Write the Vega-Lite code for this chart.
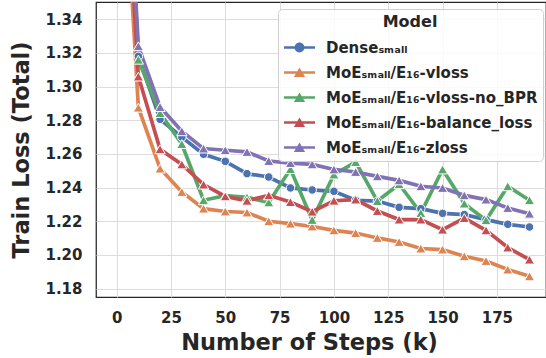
{
  "$schema": "https://vega.github.io/schema/vega-lite/v6.json",
  "width": 450,
  "height": 295,
  "autosize": {"type": "none"},
  "padding": {"left": 96, "top": 2, "right": 0, "bottom": 61},
  "background": "white",
  "config": {
    "font": "DejaVu Sans",
    "view": {"stroke": "#262626", "strokeWidth": 1.25},
    "axis": {
      "grid": true, "gridColor": "#dcdcdc", "gridWidth": 1,
      "ticks": false, "domain": false,
      "labelFontSize": 15, "labelFontWeight": "bold", "labelColor": "#262626",
      "titleFontSize": 22.5, "titleFontWeight": "bold", "titleColor": "#262626"
    },
    "legend": {
      "strokeColor": "#d0d0d0", "fillColor": "rgba(255,255,255,0.85)", "cornerRadius": 4,
      "padding": 5, "titleFontSize": 16, "titleFontWeight": "bold", "titleColor": "#262626",
      "titleAnchor": "middle", "titlePadding": 1,
      "labelFontSize": 15, "labelFontWeight": "bold", "labelColor": "#262626", "labelLimit": 400,
      "symbolSize": 1089, "rowPadding": -1, "labelOffset": 10,
      "symbolOpacity": 1, "symbolStrokeWidth": 0
    }
  },
  "data": {"values": [
    {"model":"Dense","step":0,"loss":1.56},{"model":"Dense","step":10,"loss":1.318},{"model":"Dense","step":20,"loss":1.2806},{"model":"Dense","step":30,"loss":1.270},{"model":"Dense","step":40,"loss":1.2598},{"model":"Dense","step":50,"loss":1.2556},{"model":"Dense","step":60,"loss":1.2483},{"model":"Dense","step":70,"loss":1.2463},{"model":"Dense","step":80,"loss":1.2398},{"model":"Dense","step":90,"loss":1.2386},{"model":"Dense","step":100,"loss":1.2378},{"model":"Dense","step":110,"loss":1.2325},{"model":"Dense","step":120,"loss":1.232},{"model":"Dense","step":130,"loss":1.2283},{"model":"Dense","step":140,"loss":1.2275},{"model":"Dense","step":150,"loss":1.2247},{"model":"Dense","step":160,"loss":1.224},{"model":"Dense","step":170,"loss":1.221},{"model":"Dense","step":180,"loss":1.2182},{"model":"Dense","step":190,"loss":1.2166},
    {"model":"vloss","step":0,"loss":1.51},{"model":"vloss","step":10,"loss":1.2875},{"model":"vloss","step":20,"loss":1.2513},{"model":"vloss","step":30,"loss":1.2374},{"model":"vloss","step":40,"loss":1.2275},{"model":"vloss","step":50,"loss":1.2258},{"model":"vloss","step":60,"loss":1.2252},{"model":"vloss","step":70,"loss":1.220},{"model":"vloss","step":80,"loss":1.2186},{"model":"vloss","step":90,"loss":1.2169},{"model":"vloss","step":100,"loss":1.2146},{"model":"vloss","step":110,"loss":1.213},{"model":"vloss","step":120,"loss":1.2101},{"model":"vloss","step":130,"loss":1.2077},{"model":"vloss","step":140,"loss":1.2038},{"model":"vloss","step":150,"loss":1.2032},{"model":"vloss","step":160,"loss":1.1992},{"model":"vloss","step":170,"loss":1.1964},{"model":"vloss","step":180,"loss":1.1913},{"model":"vloss","step":190,"loss":1.1873},
    {"model":"vloss-no_BPR","step":0,"loss":1.55},{"model":"vloss-no_BPR","step":10,"loss":1.316},{"model":"vloss-no_BPR","step":20,"loss":1.2843},{"model":"vloss-no_BPR","step":30,"loss":1.2659},{"model":"vloss-no_BPR","step":40,"loss":1.2325},{"model":"vloss-no_BPR","step":50,"loss":1.2352},{"model":"vloss-no_BPR","step":60,"loss":1.2342},{"model":"vloss-no_BPR","step":70,"loss":1.2312},{"model":"vloss-no_BPR","step":80,"loss":1.251},{"model":"vloss-no_BPR","step":90,"loss":1.2208},{"model":"vloss-no_BPR","step":100,"loss":1.2478},{"model":"vloss-no_BPR","step":110,"loss":1.2552},{"model":"vloss-no_BPR","step":120,"loss":1.232},{"model":"vloss-no_BPR","step":130,"loss":1.242},{"model":"vloss-no_BPR","step":140,"loss":1.2249},{"model":"vloss-no_BPR","step":150,"loss":1.2508},{"model":"vloss-no_BPR","step":160,"loss":1.2305},{"model":"vloss-no_BPR","step":170,"loss":1.2206},{"model":"vloss-no_BPR","step":180,"loss":1.2408},{"model":"vloss-no_BPR","step":190,"loss":1.2325},
    {"model":"balance_loss","step":0,"loss":1.53},{"model":"balance_loss","step":10,"loss":1.306},{"model":"balance_loss","step":20,"loss":1.2628},{"model":"balance_loss","step":30,"loss":1.2538},{"model":"balance_loss","step":40,"loss":1.2418},{"model":"balance_loss","step":50,"loss":1.2348},{"model":"balance_loss","step":60,"loss":1.2322},{"model":"balance_loss","step":70,"loss":1.2354},{"model":"balance_loss","step":80,"loss":1.2314},{"model":"balance_loss","step":90,"loss":1.2257},{"model":"balance_loss","step":100,"loss":1.2322},{"model":"balance_loss","step":110,"loss":1.2329},{"model":"balance_loss","step":120,"loss":1.2261},{"model":"balance_loss","step":130,"loss":1.221},{"model":"balance_loss","step":140,"loss":1.221},{"model":"balance_loss","step":150,"loss":1.215},{"model":"balance_loss","step":160,"loss":1.2219},{"model":"balance_loss","step":170,"loss":1.2146},{"model":"balance_loss","step":180,"loss":1.2044},{"model":"balance_loss","step":190,"loss":1.1972},
    {"model":"zloss","step":0,"loss":1.56},{"model":"zloss","step":10,"loss":1.324},{"model":"zloss","step":20,"loss":1.2879},{"model":"zloss","step":30,"loss":1.2735},{"model":"zloss","step":40,"loss":1.2632},{"model":"zloss","step":50,"loss":1.2622},{"model":"zloss","step":60,"loss":1.2612},{"model":"zloss","step":70,"loss":1.2558},{"model":"zloss","step":80,"loss":1.2546},{"model":"zloss","step":90,"loss":1.2538},{"model":"zloss","step":100,"loss":1.2508},{"model":"zloss","step":110,"loss":1.2493},{"model":"zloss","step":120,"loss":1.2467},{"model":"zloss","step":130,"loss":1.2443},{"model":"zloss","step":140,"loss":1.2408},{"model":"zloss","step":150,"loss":1.2398},{"model":"zloss","step":160,"loss":1.2354},{"model":"zloss","step":170,"loss":1.2329},{"model":"zloss","step":180,"loss":1.2279},{"model":"zloss","step":190,"loss":1.2245}
  ]},
  "encoding": {
    "x": {
      "field": "step", "type": "quantitative",
      "scale": {"domain": [-9.5, 197.6], "nice": false, "zero": false},
      "axis": {"values": [0, 25, 50, 75, 100, 125, 150, 175], "labelPadding": 13, "title": "Number of Steps (k)", "titlePadding": 6, "titleX": 213}
    },
    "y": {
      "field": "loss", "type": "quantitative",
      "scale": {"domain": [1.175, 1.3503], "nice": false, "zero": false},
      "axis": {"values": [1.18, 1.2, 1.22, 1.24, 1.26, 1.28, 1.3, 1.32, 1.34], "format": ".2f", "labelPadding": 14, "title": "Train Loss (Total)", "titlePadding": 11}
    },
    "color": {
      "field": "model", "type": "nominal", "title": "Model",
      "scale": {
        "domain": ["Dense", "vloss", "vloss-no_BPR", "balance_loss", "zloss"],
        "range": ["#4C72B0", "#DD8452", "#55A868", "#C44E52", "#8172B3"]
      },
      "legend": {
        "orient": "none", "legendX": 182, "legendY": 7,
        "labelExpr": "datum.value == 'Dense' ? 'Denseₛₘₐₗₗ' : 'MoEₛₘₐₗₗ/E₁₆-' + datum.value"
      }
    }
  },
  "layer": [
    {
      "transform": [{"filter": "datum.step < -100"}],
      "mark": {"type": "point", "filled": true, "opacity": 1, "strokeWidth": 0},
      "encoding": {
        "shape": {
          "field": "model", "type": "nominal", "title": "Model",
          "scale": {
            "domain": ["Dense", "vloss", "vloss-no_BPR", "balance_loss", "zloss"],
            "range": [
              "M-0.94,-0.08H0.94V0.08H-0.94Z M0.3,0A0.3,0.3 0 1 1 -0.3,0A0.3,0.3 0 1 1 0.3,0Z",
              "M-0.94,-0.08H0.94V0.08H-0.94Z M0,-0.31L0.34,0.27L-0.34,0.27Z",
              "M-0.94,-0.08H0.94V0.08H-0.94Z M0,-0.31L0.34,0.27L-0.34,0.27Z",
              "M-0.94,-0.08H0.94V0.08H-0.94Z M0,-0.31L0.34,0.27L-0.34,0.27Z",
              "M-0.94,-0.08H0.94V0.08H-0.94Z M0,-0.31L0.34,0.27L-0.34,0.27Z"
            ]
          },
          "legend": {
            "orient": "none", "legendX": 182, "legendY": 7,
            "labelExpr": "datum.value == 'Dense' ? 'Denseₛₘₐₗₗ' : 'MoEₛₘₐₗₗ/E₁₆-' + datum.value"
          }
        }
      }
    },
    {
      "mark": {"type": "line", "strokeWidth": 3.7, "clip": true}
    },
    {
      "transform": [{"filter": "datum.model == 'Dense'"}],
      "mark": {"type": "point", "shape": "circle", "filled": true, "size": 72, "opacity": 1, "stroke": "white", "strokeWidth": 1, "clip": true}
    },
    {
      "transform": [{"filter": "datum.model != 'Dense'"}],
      "mark": {"type": "point", "shape": "triangle-up", "filled": true, "size": 105, "opacity": 1, "stroke": "white", "strokeWidth": 1, "clip": true}
    }
  ]
}
